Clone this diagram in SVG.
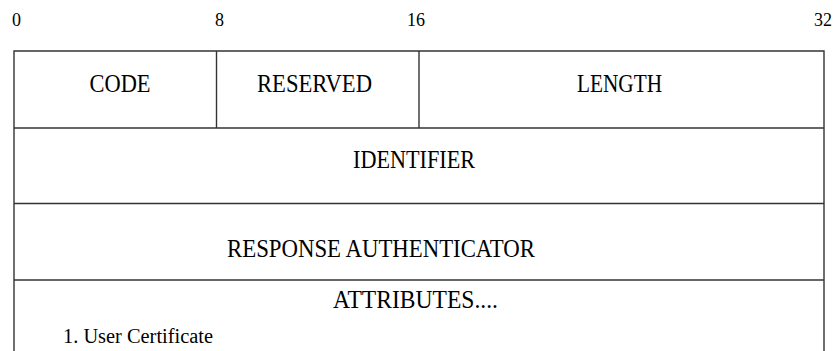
<svg xmlns="http://www.w3.org/2000/svg" width="833" height="351" viewBox="0 0 833 351">
<style>
  text { font-family: "Liberation Serif", "DejaVu Serif", serif; fill: #000; }
  .bit { font-size: 18px; }
  .lbl { font-size: 25px; }
  .sm { font-size: 20px; }
  .ln { stroke: #333; stroke-width: 1.4; fill: none; }
</style>
<rect width="833" height="351" fill="#fff"/>
<g id="bit-scale">
  <text class="bit" x="12" y="25.5">0</text>
  <text class="bit" x="219.5" y="25.5" text-anchor="middle">8</text>
  <text class="bit" x="416" y="25.5" text-anchor="middle">16</text>
  <text class="bit" x="832" y="25.5" text-anchor="end">32</text>
</g>
<g id="connectors">
  <path class="ln" d="M14,351 V51 H824 V351"/>
  <line class="ln" x1="14" y1="128" x2="824" y2="128"/>
  <line class="ln" x1="14" y1="203.5" x2="824" y2="203.5"/>
  <line class="ln" x1="14" y1="280" x2="824" y2="280"/>
  <line class="ln" x1="216.5" y1="51" x2="216.5" y2="128"/>
  <line class="ln" x1="419" y1="51" x2="419" y2="128"/>
</g>
<g id="code"><text class="lbl" x="89.5" y="91.5" textLength="61" lengthAdjust="spacingAndGlyphs">CODE</text></g>
<g id="reserved"><text class="lbl" x="257" y="91.5" textLength="115" lengthAdjust="spacingAndGlyphs">RESERVED</text></g>
<g id="length"><text class="lbl" x="577" y="91.5" textLength="85" lengthAdjust="spacingAndGlyphs">LENGTH</text></g>
<g id="identifier"><text class="lbl" x="353" y="168.3" textLength="122" lengthAdjust="spacingAndGlyphs">IDENTIFIER</text></g>
<g id="response-authenticator"><text class="lbl" x="227" y="256.5" textLength="308" lengthAdjust="spacingAndGlyphs">RESPONSE AUTHENTICATOR</text></g>
<g id="attributes">
  <text class="lbl" x="333" y="308.3" textLength="165" lengthAdjust="spacingAndGlyphs">ATTRIBUTES....</text>
  <text class="sm" x="63" y="343" textLength="150" lengthAdjust="spacingAndGlyphs">1. User Certificate</text>
</g>
</svg>
